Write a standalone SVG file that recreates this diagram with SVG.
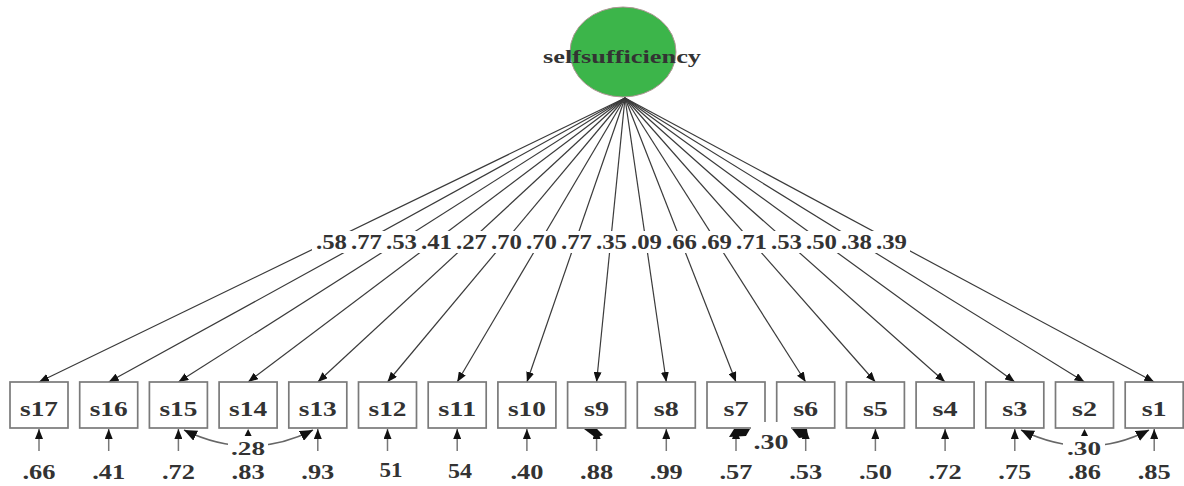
<svg xmlns="http://www.w3.org/2000/svg" width="1184" height="486" viewBox="0 0 1184 486">
<style>
.box{fill:#fff;stroke:#7a7a7a;stroke-width:1.7}
.t{font-family:"Liberation Serif","Times New Roman",serif;font-weight:bold;fill:#333;text-anchor:middle}
.bl{font-size:20px}
.ld{font-size:21px}
.cl{font-size:19px}
.conn{stroke:#3a3a3a;stroke-width:1.2;fill:none;marker-end:url(#ah)}
.err{stroke:#777;stroke-width:1.5;fill:none;marker-end:url(#ah)}
.cor{stroke:#666;stroke-width:1.5;fill:none;marker-end:url(#ah2);marker-start:url(#ah2)}
.bg{fill:#fff}
</style>
<defs>
<marker id="ah" markerUnits="userSpaceOnUse" markerWidth="10" markerHeight="8" refX="10" refY="4" orient="auto"><path d="M0,0 L10,4 L0,8 z" fill="#111"/></marker>
<marker id="ah2" markerUnits="userSpaceOnUse" markerWidth="14" markerHeight="11" refX="13" refY="5.5" orient="auto-start-reverse"><path d="M0,0 L13,5.5 L0,11 z" fill="#111"/></marker>
</defs>
<rect width="1184" height="486" fill="#fff"/>

<g id="selfsufficiency">
<ellipse cx="623" cy="52" rx="53" ry="45" fill="#3cb54a" stroke="#b09595" stroke-width="1"/>
<text class="t" x="622" y="63" font-size="19" textLength="158" lengthAdjust="spacingAndGlyphs">selfsufficiency</text>
</g>

<g id="connectors">
<path class="conn" d="M625,98 L39,382"/>
<path class="conn" d="M625,98 L108.7,382"/>
<path class="conn" d="M625,98 L178.4,382"/>
<path class="conn" d="M625,98 L248.1,382"/>
<path class="conn" d="M625,98 L317.8,382"/>
<path class="conn" d="M625,98 L387.5,382"/>
<path class="conn" d="M625,98 L457.2,382"/>
<path class="conn" d="M625,98 L526.9,382"/>
<path class="conn" d="M625,98 L596.6,382"/>
<path class="conn" d="M625,98 L666.3,382"/>
<path class="conn" d="M625,98 L736,382"/>
<path class="conn" d="M625,98 L805.7,382"/>
<path class="conn" d="M625,98 L875.4,382"/>
<path class="conn" d="M625,98 L945.1,382"/>
<path class="conn" d="M625,98 L1014.8,382"/>
<path class="conn" d="M625,98 L1084.5,382"/>
<path class="conn" d="M625,98 L1154.2,382"/>
<rect class="bg" x="312" y="231" width="598" height="22"/>
<g class="t ld">
<text x="331.5" y="249" textLength="31" lengthAdjust="spacingAndGlyphs">.58</text>
<text x="366.5" y="249" textLength="31" lengthAdjust="spacingAndGlyphs">.77</text>
<text x="401.5" y="249" textLength="31" lengthAdjust="spacingAndGlyphs">.53</text>
<text x="436.5" y="249" textLength="31" lengthAdjust="spacingAndGlyphs">.41</text>
<text x="471.5" y="249" textLength="31" lengthAdjust="spacingAndGlyphs">.27</text>
<text x="506.5" y="249" textLength="31" lengthAdjust="spacingAndGlyphs">.70</text>
<text x="541.5" y="249" textLength="31" lengthAdjust="spacingAndGlyphs">.70</text>
<text x="576.5" y="249" textLength="31" lengthAdjust="spacingAndGlyphs">.77</text>
<text x="611.5" y="249" textLength="31" lengthAdjust="spacingAndGlyphs">.35</text>
<text x="646.5" y="249" textLength="31" lengthAdjust="spacingAndGlyphs">.09</text>
<text x="681.5" y="249" textLength="31" lengthAdjust="spacingAndGlyphs">.66</text>
<text x="716.5" y="249" textLength="31" lengthAdjust="spacingAndGlyphs">.69</text>
<text x="751.5" y="249" textLength="31" lengthAdjust="spacingAndGlyphs">.71</text>
<text x="786.5" y="249" textLength="31" lengthAdjust="spacingAndGlyphs">.53</text>
<text x="821.5" y="249" textLength="31" lengthAdjust="spacingAndGlyphs">.50</text>
<text x="856.5" y="249" textLength="31" lengthAdjust="spacingAndGlyphs">.38</text>
<text x="891.5" y="249" textLength="31" lengthAdjust="spacingAndGlyphs">.39</text>
</g>
</g>

<g id="s17"><rect class="box" x="10" y="382" width="58" height="46"/><text class="t bl" x="39" y="416" textLength="38" lengthAdjust="spacingAndGlyphs">s17</text></g>
<g id="s16"><rect class="box" x="79.7" y="382" width="58" height="46"/><text class="t bl" x="108.7" y="416" textLength="38" lengthAdjust="spacingAndGlyphs">s16</text></g>
<g id="s15"><rect class="box" x="149.4" y="382" width="58" height="46"/><text class="t bl" x="178.4" y="416" textLength="38" lengthAdjust="spacingAndGlyphs">s15</text></g>
<g id="s14"><rect class="box" x="219.1" y="382" width="58" height="46"/><text class="t bl" x="248.1" y="416" textLength="38" lengthAdjust="spacingAndGlyphs">s14</text></g>
<g id="s13"><rect class="box" x="288.8" y="382" width="58" height="46"/><text class="t bl" x="317.8" y="416" textLength="38" lengthAdjust="spacingAndGlyphs">s13</text></g>
<g id="s12"><rect class="box" x="358.5" y="382" width="58" height="46"/><text class="t bl" x="387.5" y="416" textLength="38" lengthAdjust="spacingAndGlyphs">s12</text></g>
<g id="s11"><rect class="box" x="428.2" y="382" width="58" height="46"/><text class="t bl" x="457.2" y="416" textLength="38" lengthAdjust="spacingAndGlyphs">s11</text></g>
<g id="s10"><rect class="box" x="497.9" y="382" width="58" height="46"/><text class="t bl" x="526.9" y="416" textLength="38" lengthAdjust="spacingAndGlyphs">s10</text></g>
<g id="s9"><rect class="box" x="567.6" y="382" width="58" height="46"/><text class="t bl" x="596.6" y="416" textLength="25" lengthAdjust="spacingAndGlyphs">s9</text></g>
<g id="s8"><rect class="box" x="637.3" y="382" width="58" height="46"/><text class="t bl" x="666.3" y="416" textLength="25" lengthAdjust="spacingAndGlyphs">s8</text></g>
<g id="s7"><rect class="box" x="707" y="382" width="58" height="46"/><text class="t bl" x="736" y="416" textLength="25" lengthAdjust="spacingAndGlyphs">s7</text></g>
<g id="s6"><rect class="box" x="776.7" y="382" width="58" height="46"/><text class="t bl" x="805.7" y="416" textLength="25" lengthAdjust="spacingAndGlyphs">s6</text></g>
<g id="s5"><rect class="box" x="846.4" y="382" width="58" height="46"/><text class="t bl" x="875.4" y="416" textLength="25" lengthAdjust="spacingAndGlyphs">s5</text></g>
<g id="s4"><rect class="box" x="916.1" y="382" width="58" height="46"/><text class="t bl" x="945.1" y="416" textLength="25" lengthAdjust="spacingAndGlyphs">s4</text></g>
<g id="s3"><rect class="box" x="985.8" y="382" width="58" height="46"/><text class="t bl" x="1014.8" y="416" textLength="25" lengthAdjust="spacingAndGlyphs">s3</text></g>
<g id="s2"><rect class="box" x="1055.5" y="382" width="58" height="46"/><text class="t bl" x="1084.5" y="416" textLength="25" lengthAdjust="spacingAndGlyphs">s2</text></g>
<g id="s1"><rect class="box" x="1125.2" y="382" width="58" height="46"/><text class="t bl" x="1154.2" y="416" textLength="25" lengthAdjust="spacingAndGlyphs">s1</text></g>

<g id="error-connectors">
<path class="err" d="M39,451 L39,429"/>
<path class="err" d="M108.7,451 L108.7,429"/>
<path class="err" d="M178.4,451 L178.4,429"/>
<path d="M244.6,436 L248.1,429 L251.6,436 z" fill="#111"/>
<path class="err" d="M317.8,451 L317.8,429"/>
<path class="err" d="M387.5,451 L387.5,429"/>
<path class="err" d="M457.2,451 L457.2,429"/>
<path class="err" d="M526.9,451 L526.9,429"/>
<path class="err" d="M596.6,451 L596.6,429"/>
<path d="M584,429 L597,429 L603,435 L596,438 z" fill="#111"/>
<path class="err" d="M666.3,451 L666.3,429"/>
<path class="err" d="M736,451 L736,429"/>
<path class="err" d="M805.7,451 L805.7,429"/>
<path class="err" d="M875.4,451 L875.4,429"/>
<path class="err" d="M945.1,451 L945.1,429"/>
<path class="err" d="M1014.8,451 L1014.8,429"/>
<path d="M1081,436 L1084.5,429 L1088,436 z" fill="#111"/>
<path class="err" d="M1154.2,451 L1154.2,429"/>
</g>

<g id="correlations">
<path class="cor" d="M184,430 Q250,462 313,430"/>
<rect class="bg" x="228" y="439" width="40" height="20"/>
<text class="t cl" x="248" y="455" textLength="34" lengthAdjust="spacingAndGlyphs">.28</text>
<path class="cor" d="M1021,430 Q1087,462 1149,430"/>
<rect class="bg" x="1063" y="439" width="42" height="20"/>
<text class="t cl" x="1084" y="455" textLength="34" lengthAdjust="spacingAndGlyphs">.30</text>
<rect class="bg" x="751" y="422" width="40" height="36"/>
<path d="M729,437 L734,429 L750,429 L746,436 z" fill="#111"/>
<path d="M792,429 L807,429 L808,437 L799,438 z" fill="#111"/>
<text class="t ld" x="771" y="449" textLength="35" lengthAdjust="spacingAndGlyphs">.30</text>
</g>

<g id="error-values" class="t ld">
<text x="39" y="479" textLength="33" lengthAdjust="spacingAndGlyphs">.66</text>
<text x="108.7" y="479" textLength="33" lengthAdjust="spacingAndGlyphs">.41</text>
<text x="178.4" y="479" textLength="33" lengthAdjust="spacingAndGlyphs">.72</text>
<text x="248.1" y="479" textLength="33" lengthAdjust="spacingAndGlyphs">.83</text>
<text x="317.8" y="479" textLength="33" lengthAdjust="spacingAndGlyphs">.93</text>
<text x="391" y="477" textLength="23" lengthAdjust="spacingAndGlyphs">51</text>
<text x="460" y="478" textLength="24" lengthAdjust="spacingAndGlyphs">54</text>
<text x="526.9" y="479" textLength="33" lengthAdjust="spacingAndGlyphs">.40</text>
<text x="596.6" y="479" textLength="33" lengthAdjust="spacingAndGlyphs">.88</text>
<text x="666.3" y="479" textLength="33" lengthAdjust="spacingAndGlyphs">.99</text>
<text x="736" y="479" textLength="33" lengthAdjust="spacingAndGlyphs">.57</text>
<text x="805.7" y="479" textLength="33" lengthAdjust="spacingAndGlyphs">.53</text>
<text x="875.4" y="479" textLength="33" lengthAdjust="spacingAndGlyphs">.50</text>
<text x="945.1" y="479" textLength="33" lengthAdjust="spacingAndGlyphs">.72</text>
<text x="1014.8" y="479" textLength="33" lengthAdjust="spacingAndGlyphs">.75</text>
<text x="1084.5" y="479" textLength="33" lengthAdjust="spacingAndGlyphs">.86</text>
<text x="1154.2" y="479" textLength="33" lengthAdjust="spacingAndGlyphs">.85</text>
</g>
</svg>
